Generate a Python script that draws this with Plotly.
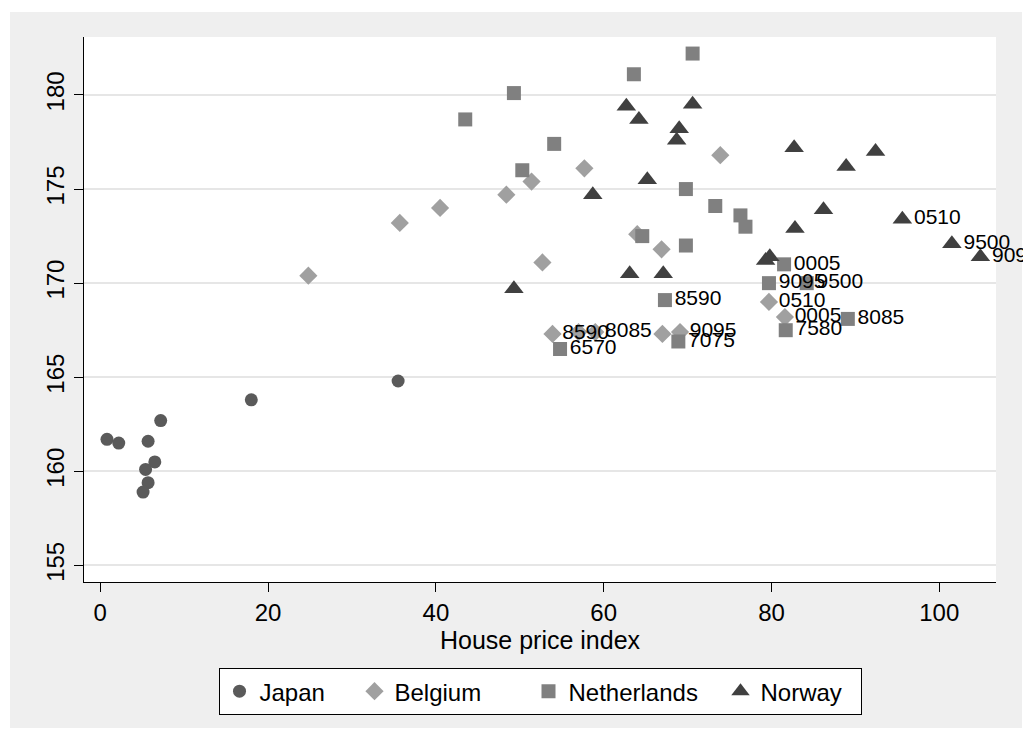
import plotly.graph_objects as go

# Height (cm) against house price index, by country
japan_x = [0.8, 2.2, 7.2, 5.7, 6.5, 5.4, 5.7, 5.1, 18.0, 35.5]
japan_y = [161.7, 161.5, 162.7, 161.6, 160.5, 160.1, 159.4, 158.9, 163.8, 164.8]

belgium_x = [24.8, 35.7, 40.5, 48.4, 51.4, 57.7, 73.9, 52.7, 64.0, 66.9,
             53.9, 57.0, 59.0, 67.0, 69.1, 79.7, 81.6]
belgium_y = [170.4, 173.2, 174.0, 174.7, 175.4, 176.1, 176.8, 171.1, 172.6, 171.8,
             167.3, 167.4, 167.4, 167.3, 167.4, 169.0, 168.2]
belgium_lab = ["", "", "", "", "", "", "", "", "", "",
               "8590", "", "8085", "", "9095", "0510", "0005"]

neth_x = [43.5, 49.3, 54.1, 50.3, 63.6, 70.6, 69.8, 73.3, 64.6, 69.8,
          76.3, 76.9, 81.5, 79.7, 84.2, 89.1, 81.7, 67.3, 54.8, 68.9]
neth_y = [178.7, 180.1, 177.4, 176.0, 181.1, 182.2, 175.0, 174.1, 172.5, 172.0,
          173.6, 173.0, 171.0, 170.0, 170.0, 168.1, 167.5, 169.1, 166.5, 166.9]
neth_lab = ["", "", "", "", "", "", "", "", "", "",
            "", "", "0005", "9095", "9500", "8085", "7580", "8590", "6570", "7075"]

norway_x = [62.7, 70.6, 64.2, 69.0, 68.7, 65.2, 58.7, 63.1, 67.1, 49.3,
            82.7, 88.9, 92.4, 86.2, 82.8, 79.3, 79.8, 95.6, 101.5, 104.9]
norway_y = [179.4, 179.5, 178.7, 178.2, 177.6, 175.5, 174.7, 170.5, 170.5, 169.7,
            177.2, 176.2, 177.0, 173.9, 172.9, 171.2, 171.4, 173.4, 172.1, 171.4]
norway_lab = ["", "", "", "", "", "", "", "", "", "",
              "", "", "", "", "", "", "", "0510", "9500", "9095"]

x_ticks = [0, 20, 40, 60, 80, 100]
y_ticks = [155, 160, 165, 170, 175, 180]

FONT = "Liberation Sans, Arial, Helvetica, sans-serif"
LABEL_FONT = dict(family=FONT, size=21, color="black")

fig = go.Figure()

fig.add_trace(go.Scatter(
    x=japan_x, y=japan_y, name="Japan", mode="markers",
    marker=dict(symbol="circle", size=13, color="#5a5a5a"),
    legendwidth=90,
))
fig.add_trace(go.Scatter(
    x=belgium_x, y=belgium_y, name="Belgium", mode="markers+text",
    text=belgium_lab, textposition="middle right", textfont=LABEL_FONT,
    cliponaxis=False,
    marker=dict(symbol="diamond", size=14, color="#a0a0a0"),
    legendwidth=129,
))
fig.add_trace(go.Scatter(
    x=neth_x, y=neth_y, name="Netherlands", mode="markers+text",
    text=neth_lab, textposition="middle right", textfont=LABEL_FONT,
    cliponaxis=False,
    marker=dict(symbol="square", size=14, color="#808080"),
    legendwidth=147,
))
fig.add_trace(go.Scatter(
    x=norway_x, y=norway_y, name="Norway", mode="markers+text",
    text=norway_lab, textposition="middle right", textfont=LABEL_FONT,
    cliponaxis=False,
    marker=dict(symbol="triangle-up", size=17, color="#404040"),
    legendwidth=95,
))

# Grey outer frame with a white plotting region on top of it
fig.add_shape(type="rect", xref="paper", yref="paper", layer="below",
              x0=-0.0811, x1=1.0285, y0=-0.2679, y1=1.0459,
              fillcolor="#efefef", line=dict(width=0))
fig.add_shape(type="rect", xref="paper", yref="paper", layer="below",
              x0=0, x1=1, y0=0, y1=1,
              fillcolor="white", line=dict(width=0))

fig.update_layout(
    width=1023, height=740,
    margin=dict(l=84, r=27, t=37, b=158),
    paper_bgcolor="white", plot_bgcolor="white",
    font=dict(family=FONT, size=24, color="black"),
    showlegend=True,
    legend=dict(
        orientation="h", x=0.5, xanchor="center", y=-0.158, yanchor="top",
        bgcolor="white", bordercolor="black", borderwidth=1,
        font=dict(family=FONT, size=24, color="black"),
    ),
    xaxis=dict(
        range=[-1.94, 106.76], tickvals=x_ticks, ticks="outside", ticklen=9,
        tickwidth=1.3, tickcolor="black", showline=True, linecolor="black",
        linewidth=1.3, showgrid=False, zeroline=False,
        tickfont=dict(size=24),
        title=dict(text="House price index", font=dict(size=25), standoff=4),
    ),
    yaxis=dict(
        range=[154.12, 183.08], tickvals=y_ticks, ticks="outside", ticklen=9,
        tickwidth=1.3, tickcolor="black", showline=True, linecolor="black",
        linewidth=1.3, showgrid=True, gridcolor="#e6e6e6", gridwidth=2,
        zeroline=False, tickangle=-90, tickfont=dict(size=24),
    ),
)

fig.write_html("out.html")
